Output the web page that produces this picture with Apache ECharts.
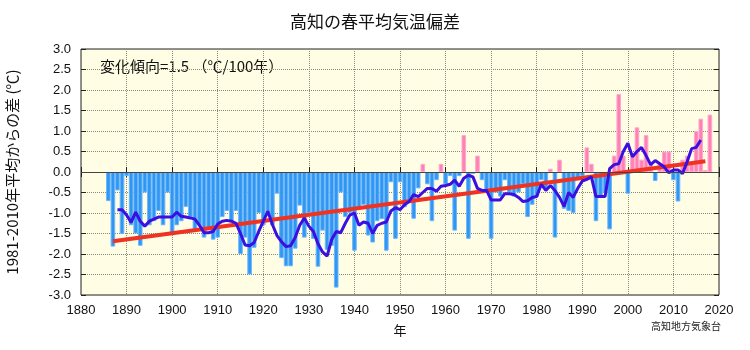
<!DOCTYPE html>
<html>
<head>
<meta charset="utf-8">
<script src="https://cdn.jsdelivr.net/npm/echarts@6/dist/echarts.min.js"></script>
<style>
html, body { margin: 0; padding: 0; background: #ffffff; }
#container { width: 750px; height: 350px; }
</style>
</head>
<body>
<div id="container"></div>
<script>
// 年ごとの春平均気温偏差（1981-2010年平均からの差）
var years = [
    1886, 1887, 1888, 1889,
    1890, 1891, 1892, 1893, 1894, 1895, 1896, 1897, 1898, 1899,
    1900, 1901, 1902, 1903, 1904, 1905, 1906, 1907, 1908, 1909,
    1910, 1911, 1912, 1913, 1914, 1915, 1916, 1917, 1918, 1919,
    1920, 1921, 1922, 1923, 1924, 1925, 1926, 1927, 1928, 1929,
    1930, 1931, 1932, 1933, 1934, 1935, 1936, 1937, 1938, 1939,
    1940, 1941, 1942, 1943, 1944, 1945, 1946, 1947, 1948, 1949,
    1950, 1951, 1952, 1953, 1954, 1955, 1956, 1957, 1958, 1959,
    1960, 1961, 1962, 1963, 1964, 1965, 1966, 1967, 1968, 1969,
    1970, 1971, 1972, 1973, 1974, 1975, 1976, 1977, 1978, 1979,
    1980, 1981, 1982, 1983, 1984, 1985, 1986, 1987, 1988, 1989,
    1990, 1991, 1992, 1993, 1994, 1995, 1996, 1997, 1998, 1999,
    2000, 2001, 2002, 2003, 2004, 2005, 2006, 2007, 2008, 2009,
    2010, 2011, 2012, 2013, 2014, 2015, 2016, 2017, 2018
];
var anomaly = [
    -0.71, -1.82, -0.45, -1.51,
    -0.10, -1.30, -1.50, -1.80, -0.50, -1.30, -1.20, -0.95, -1.30, -0.50,
    -1.50, -1.30, -1.20, -0.85, -1.10, -1.40, -1.30, -1.60, -1.40, -1.65,
    -1.60, -1.10, -0.95, -1.20, -0.95, -2.00, -1.60, -2.50, -1.85, -1.00,
    -1.30, -1.00, -1.30, -0.53, -2.10, -2.30, -2.30, -1.87, -0.82, -1.60,
    -1.00, -1.63, -2.31, -1.43, -1.90, -1.80, -2.82, -0.50, -1.10, -1.00,
    -1.92, -0.86, -0.80, -1.55, -1.72, -1.20, -1.15, -1.92, -0.25, -1.63,
    -0.25, -0.86, -0.70, -1.14, -0.40, 0.20, -0.30, -1.20, -0.20, 0.20,
    -0.30, -0.10, -1.43, -0.10, 0.90, -1.63, -0.05, 0.40, -0.20, -0.50,
    -1.63, -0.50, -0.60, -0.20, -0.50, -0.60, -0.50, -0.30, -1.10, -0.80,
    -0.60, -0.20, -0.40, 0.08, -1.60, 0.30, -0.90, -0.95, -1.00, -0.20,
    -0.10, 0.60, 0.20, -1.20, -0.60, -0.50, -1.40, 0.40, 1.90, 0.40,
    -0.53, 0.40, 1.09, 0.30, 0.90, 0.20, -0.22, 0.20, 0.50, 0.50,
    -0.20, -0.72, 0.30, 0.40, 0.20, 1.00, 1.30, 0.05, 1.40
];

// 5年移動平均
var rmYears = [
    1888, 1889,
    1890, 1891, 1892, 1893, 1894, 1895, 1896, 1897, 1898, 1899,
    1900, 1901, 1902, 1903, 1904, 1905, 1906, 1907, 1908, 1909,
    1910, 1911, 1912, 1913, 1914, 1915, 1916, 1917, 1918, 1919,
    1920, 1921, 1922, 1923, 1924, 1925, 1926, 1927, 1928, 1929,
    1930, 1931, 1932, 1933, 1934, 1935, 1936, 1937, 1938, 1939,
    1940, 1941, 1942, 1943, 1944, 1945, 1946, 1947, 1948, 1949,
    1950, 1951, 1952, 1953, 1954, 1955, 1956, 1957, 1958, 1959,
    1960, 1961, 1962, 1963, 1964, 1965, 1966, 1967, 1968, 1969,
    1970, 1971, 1972, 1973, 1974, 1975, 1976, 1977, 1978, 1979,
    1980, 1981, 1982, 1983, 1984, 1985, 1986, 1987, 1988, 1989,
    1990, 1991, 1992, 1993, 1994, 1995, 1996, 1997, 1998, 1999,
    2000, 2001, 2002, 2003, 2004, 2005, 2006, 2007, 2008, 2009,
    2010, 2011, 2012, 2013, 2014, 2015, 2016
];
var runMean = [
    -0.92, -0.92,
    -1.05, -1.23, -0.98, -1.20, -1.32, -1.20, -1.15, -1.10, -1.10, -1.10,
    -1.10, -0.98, -1.08, -1.10, -1.12, -1.15, -1.30, -1.48, -1.48, -1.45,
    -1.27, -1.20, -1.18, -1.20, -1.25, -1.50, -1.78, -1.80, -1.72, -1.45,
    -1.20, -0.96, -1.28, -1.55, -1.70, -1.82, -1.80, -1.60, -1.30, -1.12,
    -1.32, -1.45, -1.75, -1.95, -2.05, -1.65, -1.45, -1.48, -1.25, -1.05,
    -1.00, -1.30, -1.22, -1.25, -1.50, -1.30, -1.25, -1.22, -0.95, -0.87,
    -0.92, -0.80, -0.72, -0.55, -0.60, -0.50, -0.40, -0.40, -0.47, -0.35,
    -0.33, -0.30, -0.20, -0.35, -0.15, -0.08, -0.12, -0.40, -0.45, -0.45,
    -0.68, -0.68, -0.68, -0.53, -0.53, -0.55, -0.62, -0.72, -0.70, -0.62,
    -0.60, -0.30, -0.45, -0.33, -0.45, -0.62, -0.84, -0.50, -0.62, -0.40,
    -0.22, -0.18, -0.12, -0.60, -0.60, -0.60, 0.08, 0.18, 0.20, 0.50,
    0.70, 0.37, 0.50, 0.60, 0.40, 0.18, 0.28, 0.20, 0.12, -0.02,
    0.05, 0.05, -0.04, 0.25, 0.57, 0.60, 0.78
];

// 長期変化傾向（直線）
var trendYears = [1887, 2017];
var trendValues = [-1.69, 0.26];

var barData = [];
for (var i = 0; i < years.length; i++) {
    var v = anomaly[i];
    barData.push({
        value: [years[i], v],
        itemStyle: {
            color: v >= 0 ? '#ff80b5' : '#2f96f2',
            borderColor: v >= 0 ? '#ffa8cc' : '#6cb6ff'
        }
    });
}
var rmData = [];
for (var i = 0; i < rmYears.length; i++) {
    rmData.push([rmYears[i], runMean[i]]);
}
var trendData = [];
for (var i = 0; i < trendYears.length; i++) {
    trendData.push([trendYears[i], trendValues[i]]);
}

var labelFont = '"Liberation Sans", Arial, sans-serif';
var jpFont = '"Noto Sans CJK JP", sans-serif';

var dom = document.getElementById("container");
var myChart = echarts.init(dom, null, {renderer: 'canvas'});
var option = {
    animation: false,
    backgroundColor: '#ffffff',
    title: {
        text: '高知の春平均気温偏差',
        left: 'center',
        top: 8,
        textStyle: {
            fontFamily: jpFont,
            fontSize: 17,
            fontWeight: 'normal',
            color: '#111'
        }
    },
    grid: {
        left: 81,
        right: 31,
        top: 49,
        bottom: 55,
        containLabel: false,
        outerBoundsMode: 'none',
        show: true,
        backgroundColor: '#fffde4',
        borderColor: '#222',
        borderWidth: 1
    },
    xAxis: [{
        type: 'value',
        min: 1880,
        max: 2020,
        interval: 10,
        name: '年',
        nameLocation: 'middle',
        nameGap: 29,
        nameTextStyle: {fontFamily: jpFont, fontSize: 13, color: '#111'},
        axisLine: {show: false},
        axisTick: {show: true, inside: true, length: 5, lineStyle: {color: '#222'}},
        axisLabel: {
            margin: 9,
            fontSize: 13,
            fontFamily: labelFont,
            color: '#111',
            formatter: function (v) { return String(v); }
        },
        splitLine: {show: true, lineStyle: {color: '#8a8a7a', type: 'dotted', width: 1}}
    }, {
        type: 'value',
        position: 'top',
        min: 1880,
        max: 2020,
        interval: 10,
        axisLine: {show: false},
        axisTick: {show: true, inside: true, length: 5, lineStyle: {color: '#222'}},
        axisLabel: {show: false},
        splitLine: {show: false}
    }],
    yAxis: [{
        type: 'value',
        min: -3,
        max: 3,
        interval: 0.5,
        name: '1981-2010年平均からの差 (℃)',
        nameLocation: 'middle',
        nameGap: 61,
        nameTextStyle: {fontFamily: jpFont, fontSize: 15, color: '#111'},
        axisLine: {show: false},
        axisTick: {show: true, inside: true, length: 5, lineStyle: {color: '#222'}},
        axisLabel: {
            margin: 10,
            fontSize: 13,
            fontFamily: labelFont,
            color: '#111',
            formatter: function (v) { return v.toFixed(1); }
        },
        splitLine: {show: true, lineStyle: {color: '#8a8a7a', type: 'dotted', width: 1}}
    }, {
        type: 'value',
        position: 'right',
        min: -3,
        max: 3,
        interval: 0.5,
        axisLine: {show: false},
        axisTick: {show: true, inside: true, length: 5, lineStyle: {color: '#222'}},
        axisLabel: {show: false},
        splitLine: {show: false}
    }],
    graphic: [{
        type: 'text',
        left: 100,
        top: 59,
        style: {
            text: '変化傾向=1.5 （℃/100年）',
            fontFamily: jpFont,
            fontSize: 15,
            fill: '#111'
        }
    }, {
        type: 'text',
        left: 651,
        top: 321,
        style: {
            text: '高知地方気象台',
            fontFamily: jpFont,
            fontSize: 10,
            fill: '#222'
        }
    }],
    series: [{
        type: 'bar',
        xAxisIndex: 0,
        yAxisIndex: 0,
        barWidth: 4.6,
        itemStyle: {borderWidth: 1},
        data: barData,
        markLine: {
            silent: true,
            symbol: 'none',
            label: {show: false},
            lineStyle: {color: '#444', type: 'solid', width: 1},
            data: [{yAxis: 0}]
        },
        z: 2
    }, {
        type: 'line',
        xAxisIndex: 0,
        yAxisIndex: 0,
        data: trendData,
        showSymbol: false,
        lineStyle: {color: '#ee3322', width: 4},
        z: 3
    }, {
        type: 'line',
        xAxisIndex: 0,
        yAxisIndex: 0,
        data: rmData,
        showSymbol: false,
        lineStyle: {color: '#3a0fe0', width: 3},
        z: 4
    }]
};
if (option && typeof option === "object") {
    myChart.setOption(option, true);
}
</script>
</body>
</html>
